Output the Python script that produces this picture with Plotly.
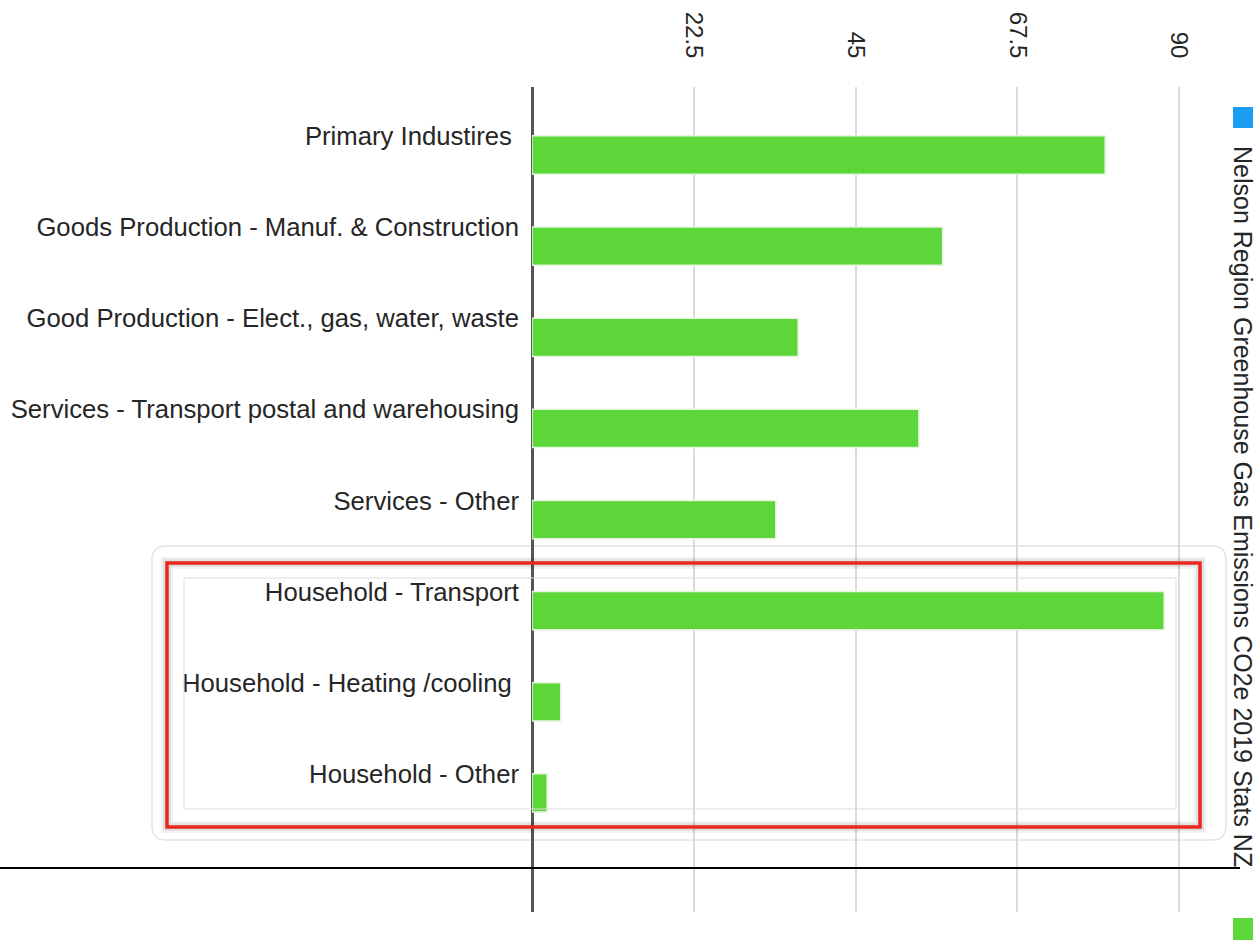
import plotly.graph_objects as go

categories = [
    "Primary Industires ",
    "Goods Production - Manuf. & Construction",
    "Good Production - Elect., gas, water, waste",
    "Services - Transport postal and warehousing",
    "Services - Other",
    "Household - Transport",
    "Household - Heating /cooling ",
    "Household - Other",
]
values = [79.7, 57.1, 37.0, 53.8, 33.9, 87.9, 4.0, 2.1]
tick_values = [22.5, 45, 67.5, 90]
tick_labels = ["22.5", "45", "67.5", "90"]
title_text = "Nelson Region Greenhouse Gas Emissions CO2e 2019 Stats NZ"

GREEN = "#5dd63a"
FONT = "Liberation Sans, Arial, sans-serif"
TXT = "#262626"

fig = go.Figure()
fig.add_trace(go.Bar(
    y=categories, x=values, orientation="h",
    marker=dict(color=GREEN, line=dict(color="#e6f5e0", width=1.5)),
    width=0.42, showlegend=False,
))

W, H = 1257, 940
L, R, T, B = 532, 49, 87, 28

fig.update_layout(
    width=W, height=H,
    margin=dict(l=L, r=R, t=T, b=B),
    paper_bgcolor="white", plot_bgcolor="white",
    font=dict(family=FONT, color=TXT),
    xaxis=dict(
        side="top", range=[0, 94], tickvals=tick_values, ticktext=tick_labels,
        tickangle=90, tickfont=dict(size=24, color=TXT),
        showgrid=True, gridcolor="#dadada", gridwidth=2,
        zeroline=True, zerolinecolor="#555", zerolinewidth=2.5,
        ticks="", ticklabelstandoff=24, showline=False,
    ),
    yaxis=dict(
        type="category", categoryorder="array", categoryarray=categories,
        range=[8.306, -0.746], tickfont=dict(size=25.7, color=TXT),
        showgrid=False, zeroline=False, ticks="", ticklabelstandoff=12,
        ticklabelshift=19,
    ),
)

pw, ph = W - L - R, H - T - B
def xp(x):
    return (x - L) / pw
def yp(y):
    return 1 - (y - T) / ph

shapes = []
# rounded light box
x0, x1, y0, y1, r = 152, 1226, 546, 840, 14
path = (f"M {xp(x0 + r)} {yp(y0)} L {xp(x1 - r)} {yp(y0)} Q {xp(x1)} {yp(y0)} {xp(x1)} {yp(y0 + r)} "
        f"L {xp(x1)} {yp(y1 - r)} Q {xp(x1)} {yp(y1)} {xp(x1 - r)} {yp(y1)} "
        f"L {xp(x0 + r)} {yp(y1)} Q {xp(x0)} {yp(y1)} {xp(x0)} {yp(y1 - r)} "
        f"L {xp(x0)} {yp(y0 + r)} Q {xp(x0)} {yp(y0)} {xp(x0 + r)} {yp(y0)} Z")
shapes.append(dict(type="path", xref="paper", yref="paper", path=path,
                   line=dict(color="#e4e4e4", width=1.5), layer="below"))
# shadow for red box
for w, c in [(12, "rgba(0,0,0,0.05)"), (8, "rgba(0,0,0,0.07)")]:
    shapes.append(dict(type="rect", xref="paper", yref="paper",
                       x0=xp(167), x1=xp(1200), y0=yp(563), y1=yp(827),
                       line=dict(color=c, width=w)))
# inner thin selection box
shapes.append(dict(type="rect", xref="paper", yref="paper",
                   x0=xp(184), x1=xp(1176), y0=yp(578), y1=yp(809),
                   line=dict(color="#dedede", width=1)))
# red box
shapes.append(dict(type="rect", xref="paper", yref="paper",
                   x0=xp(167), x1=xp(1200), y0=yp(563), y1=yp(827),
                   line=dict(color="#e8281e", width=3.5)))
# horizontal black line
shapes.append(dict(type="line", xref="paper", yref="paper",
                   x0=xp(0), x1=xp(1240), y0=yp(868), y1=yp(868),
                   line=dict(color="black", width=2)))
# legend squares
shapes.append(dict(type="rect", xref="paper", yref="paper",
                   x0=xp(1233), x1=xp(1253), y0=yp(107), y1=yp(128),
                   fillcolor="#1c9cf2", line=dict(width=0)))
shapes.append(dict(type="rect", xref="paper", yref="paper",
                   x0=xp(1233), x1=xp(1253), y0=yp(918), y1=yp(942),
                   fillcolor=GREEN, line=dict(width=0)))
fig.update_layout(shapes=shapes)

fig.add_annotation(
    x=xp(1243), y=yp(506), xref="paper", yref="paper",
    text=title_text, textangle=90, showarrow=False,
    font=dict(size=25, color=TXT, family=FONT),
    xanchor="center", yanchor="middle",
)

fig.write_html("out.html")
